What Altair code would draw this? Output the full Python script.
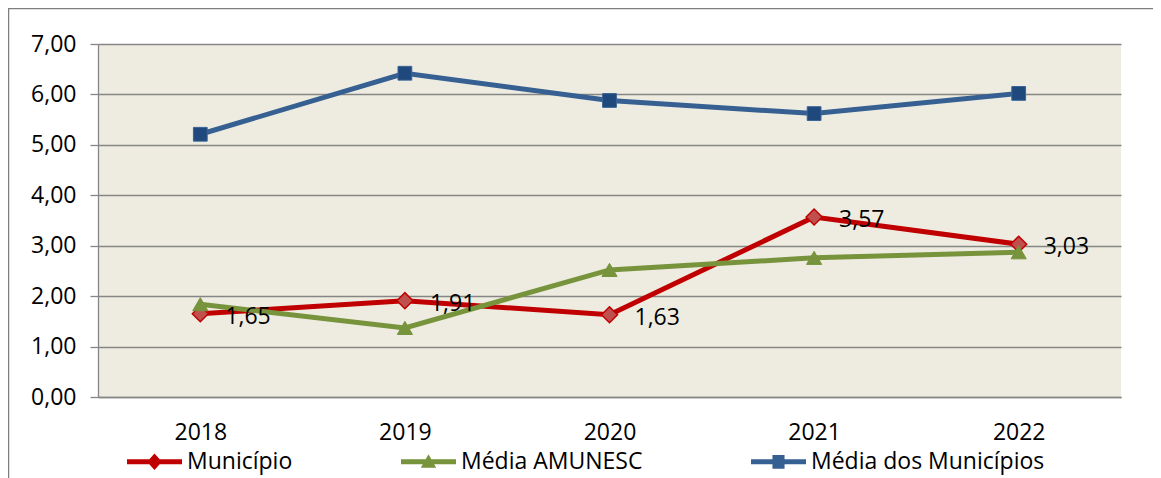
import altair as alt
import pandas as pd

anos = ["2018", "2019", "2020", "2021", "2022"]
series = ["Município", "Média AMUNESC", "Média dos Municípios"]
municipio = [1.65, 1.91, 1.63, 3.57, 3.03]
amunesc = [1.84, 1.37, 2.52, 2.76, 2.87]
media_mun = [5.21, 6.42, 5.88, 5.62, 6.02]
y_ticks = [0, 1, 2, 3, 4, 5, 6, 7]

line_colors = ["#C00000", "#77933C", "#376092"]
legend_paths = [
    "M-1,-0.09L1,-0.09L1,0.09L-1,0.09Z M0,-0.3L0.27,0L0,0.3L-0.27,0Z",
    "M-1,-0.09L1,-0.09L1,0.09L-1,0.09Z M0,-0.27L0.28,0.22L-0.28,0.22Z",
    "M-1,-0.09L1,-0.09L1,0.09L-1,0.09Z M-0.22,-0.25L0.22,-0.25L0.22,0.25L-0.22,0.25Z",
]

rows = []
for s, vals in zip(series, [municipio, amunesc, media_mun]):
    for a, v in zip(anos, vals):
        rows.append({"ano": a, "serie": s, "valor": v,
                     "rotulo": f"{v:.2f}".replace(".", ",")})
df = pd.DataFrame(rows)

FONT = "Open Sans"
GRID = "#868686"

x_enc = alt.X("ano:O", sort=anos, title=None,
              axis=alt.Axis(labelAngle=0, ticks=False, domainColor=GRID, domainWidth=1.3,
                            labelFontSize=23, labelFont=FONT, labelColor="black",
                            labelPadding=24, grid=False))
y_enc = alt.Y("valor:Q", title=None,
              scale=alt.Scale(domain=[0, 7], nice=False, zero=True),
              axis=alt.Axis(values=y_ticks,
                            labelExpr="replace(format(datum.value, '.2f'), '.', ',')",
                            grid=True, gridColor=GRID, gridWidth=1.3,
                            domainColor=GRID, domainWidth=1.3,
                            tickColor=GRID, tickWidth=1.3, tickSize=8,
                            labelFontSize=23, labelFont=FONT, labelColor="black",
                            labelPadding=14))

base = alt.Chart(df).encode(x=x_enc, y=y_enc)

marker_specs = {
    "Município": dict(shape="diamond", size=256, fill="#C0504D", stroke="#C00000", strokeWidth=1.5),
    "Média AMUNESC": dict(shape="triangle-up", size=230, fill="#77933C", stroke="#77933C", strokeWidth=1),
    "Média dos Municípios": dict(shape="square", size=190, fill="#1F497D", stroke="#3A6496", strokeWidth=1),
}

layers = []
for s, col in zip(series, line_colors):
    sub = base.transform_filter(alt.datum.serie == s)
    layers.append(sub.mark_line(color=col, strokeWidth=5))
    layers.append(sub.mark_point(filled=True, opacity=1, **marker_specs[s]))

labels = base.transform_filter(alt.datum.serie == "Município").mark_text(
    align="left", baseline="middle", dx=25, dy=3, fontSize=23, font=FONT, color="black"
).encode(text="rotulo:N")
layers.append(labels)

leg = dict(title=None, orient="none", legendX=29, legendY=390, direction="horizontal",
           columnPadding=108, labelOffset=5, padding=0, symbolSize=3025,
           symbolStrokeWidth=0, labelFontSize=23, labelFont=FONT, labelColor="black",
           labelLimit=400)
legend_layer = base.transform_filter("false").mark_point(filled=True, opacity=1).encode(
    color=alt.Color("serie:N", scale=alt.Scale(domain=series, range=line_colors),
                    legend=alt.Legend(**leg)),
    shape=alt.Shape("serie:N", scale=alt.Scale(domain=series, range=legend_paths),
                    legend=alt.Legend(**leg)),
)
layers.append(legend_layer)

frame_data = alt.Data(values=[{"k": 1}])
frame_top = alt.Chart(frame_data).mark_rule(color="#7F7F7F", strokeWidth=1.5).encode(
    x=alt.value(-89.5), x2=alt.value(1070), y=alt.value(-35.5))
frame_left = alt.Chart(frame_data).mark_rule(color="#7F7F7F", strokeWidth=1.5).encode(
    x=alt.value(-89.5), y=alt.value(-36), y2=alt.value(450))
layers += [frame_top, frame_left]

chart = alt.layer(*layers).properties(
    width=1023, height=353,
    padding={"left": 90, "top": 36, "right": 32, "bottom": 95},
    autosize="none", background="white",
).configure_view(fill="#EEECE1", stroke=None)

chart.save("out.html", embed_options={"renderer": "svg", "actions": False})
